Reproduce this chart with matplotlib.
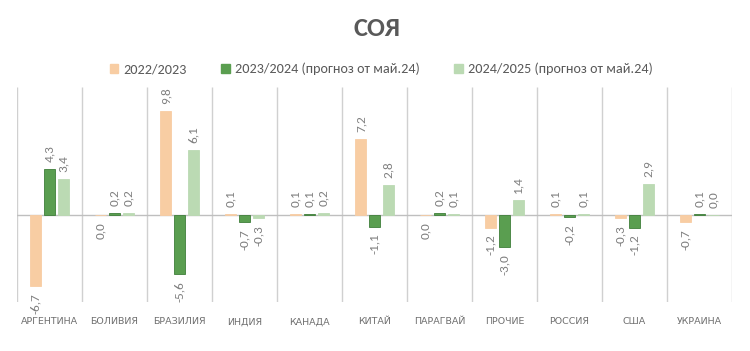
import numpy as np
import matplotlib
matplotlib.use("Agg")
import matplotlib.pyplot as plt
from matplotlib.patches import Patch

categories = ["АРГЕНТИНА", "БОЛИВИЯ", "БРАЗИЛИЯ", "ИНДИЯ", "КАНАДА", "КИТАЙ",
              "ПАРАГВАЙ", "ПРОЧИЕ", "РОССИЯ", "США", "УКРАИНА"]
series_names = ["2022/2023", "2023/2024 (прогноз от май.24)", "2024/2025 (прогноз от май.24)"]
s2022 = [-6.7, -0.01, 9.8, 0.1, 0.1, 7.2, -0.01, -1.2, 0.1, -0.3, -0.7]
s2023 = [4.3, 0.2, -5.6, -0.7, 0.1, -1.1, 0.2, -3.0, -0.2, -1.2, 0.1]
s2024 = [3.4, 0.2, 6.1, -0.3, 0.2, 2.8, 0.1, 1.4, 0.1, 2.9, 0.01]

colors = ["#F8CDA3", "#5A9E50", "#BBDAB3"]
edges = ["#F8CDA3", "#3F7F3A", "#BBDAB3"]
label_color = "#7F7F7F"
calibri = ["Carlito", "DejaVu Sans"]


def fmt(v):
    s = f"{v:.1f}".replace(".", ",")
    return "0,0" if s == "-0,0" else s


fig = plt.figure(figsize=(7.5, 3.51), dpi=100)
ax = fig.add_axes([17 / 750, 1 - 302 / 351, 715 / 750, 215 / 351])

x = np.arange(len(categories))
offsets = [-0.21, 0.0, 0.21]
width = 0.17

for vals, off, c, ec in zip([s2022, s2023, s2024], offsets, colors, edges):
    ax.bar(x + off, vals, width=width, color=c, edgecolor=ec, linewidth=0.6, zorder=3)
    for xi, v in zip(x + off, vals):
        ax.annotate(fmt(v), (xi, v), xytext=(0, 5 if v >= 0 else -5),
                    textcoords="offset points", rotation=90,
                    ha="center", va="bottom" if v >= 0 else "top",
                    fontsize=9.5, color=label_color, family=calibri, zorder=4)

ax.axhline(0, color="#BFBFBF", linewidth=1, zorder=2)
ax.vlines(np.arange(-0.5, len(categories)), -8.2, 12.07, color="#D0D0D0", linewidth=1, zorder=1)

ax.set_xlim(-0.5, len(categories) - 0.5)
ax.set_ylim(-8.2, 12.07)
ax.set_yticks([])
ax.set_xticks([])
for sp in ax.spines.values():
    sp.set_visible(False)

for xi, name in zip(x, categories):
    ax.text(xi, -0.093, name, transform=ax.get_xaxis_transform(), ha="center", va="center",
            fontsize=6.8, color="#6F6F6F")

fig.text(0.503, 0.918, "СОЯ", ha="center", va="center", fontsize=19, fontweight="bold",
         color="#595959", family=calibri)

handles = [Patch(facecolor=c, edgecolor=c) for c in colors]
fig.legend(handles, series_names, loc="center", bbox_to_anchor=(0.508, 0.803), ncol=3,
           frameon=False, handlelength=0.6, handleheight=0.6, handletextpad=0.35,
           columnspacing=2.45, prop={"family": calibri, "size": 10.2},
           labelcolor="#595959")

fig.savefig("out.png", dpi=100)
